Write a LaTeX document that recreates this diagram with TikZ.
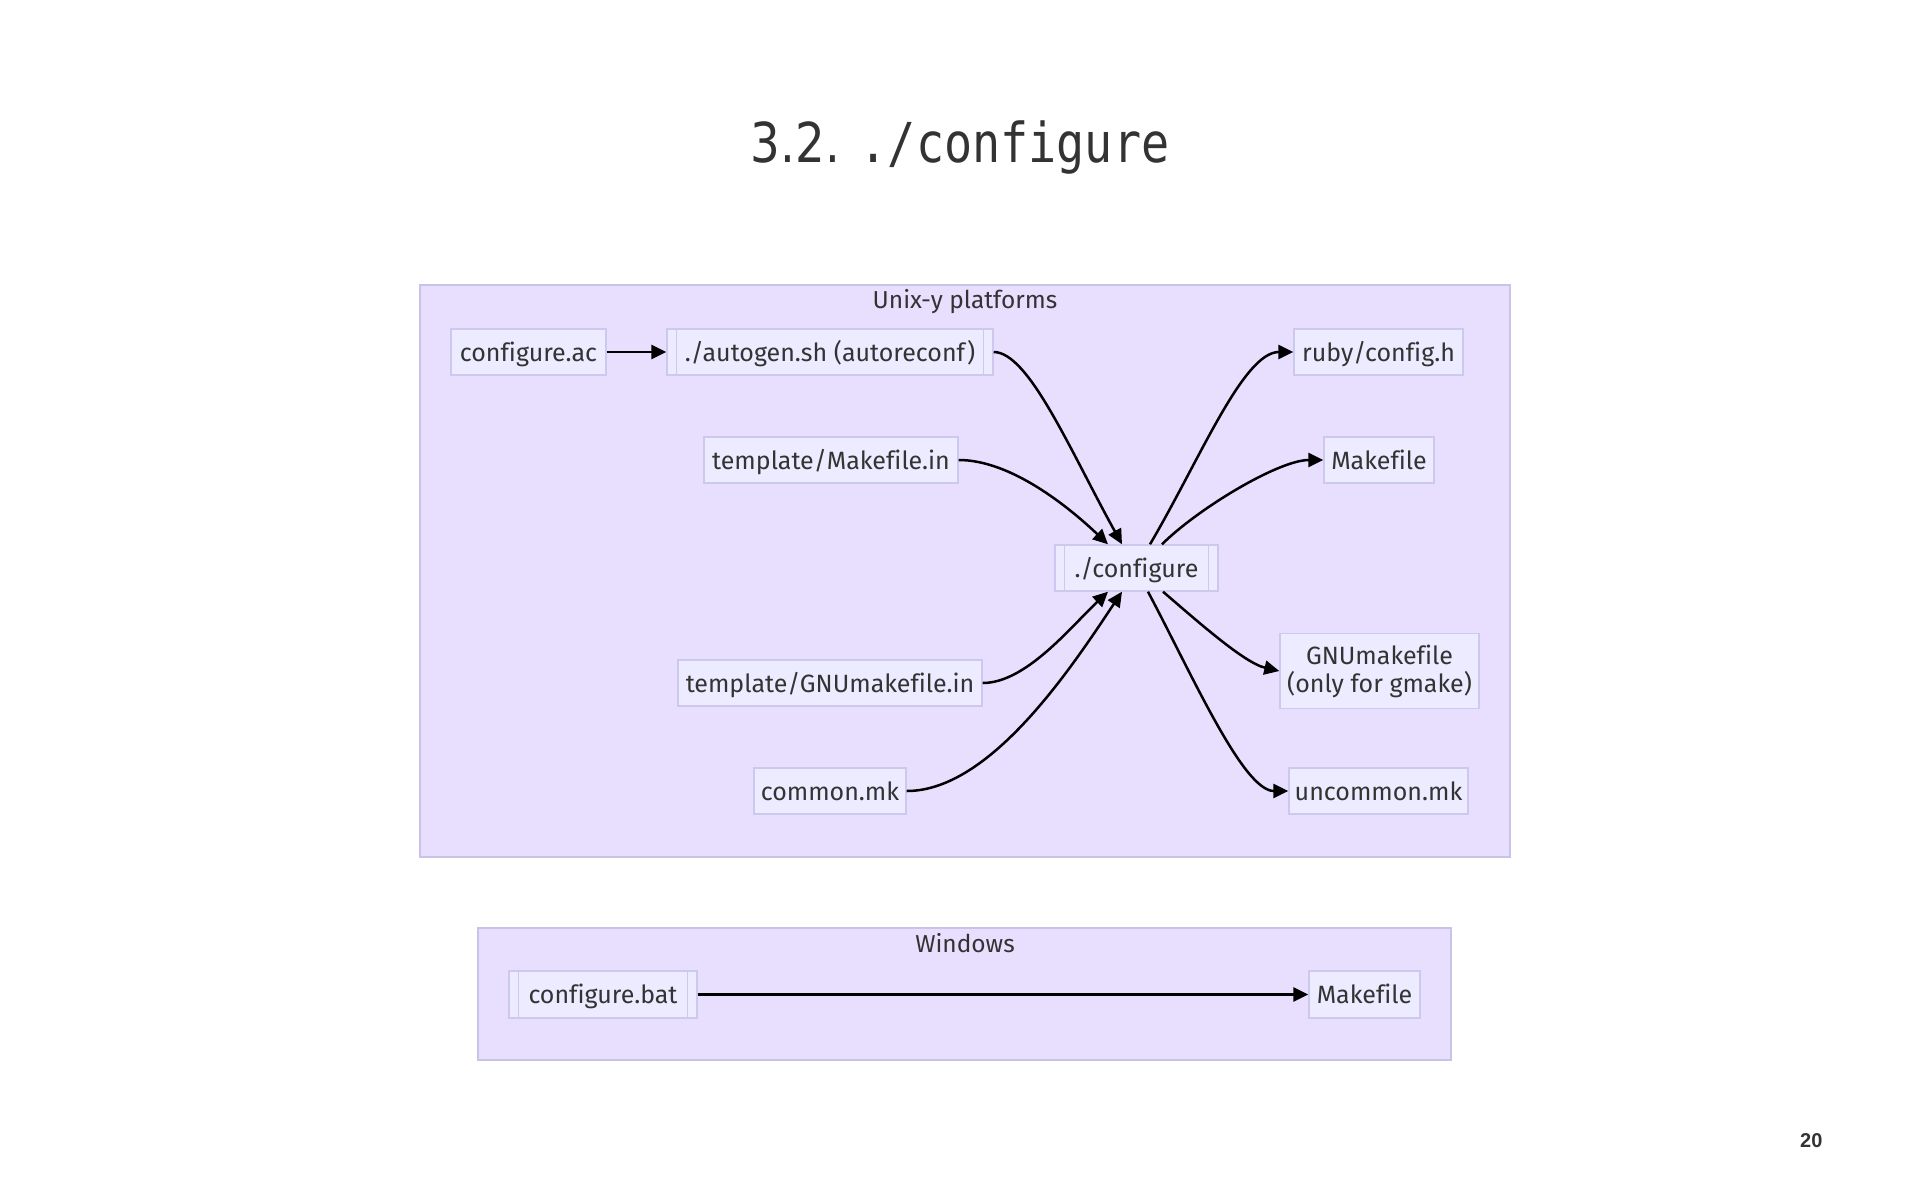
\documentclass[tikz,border=0pt]{standalone}
\usepackage{fontspec}
\setmainfont{Fira Sans}[Ligatures={NoCommon}]
\newfontfamily\titlesans[FakeStretch=0.85]{DejaVu Sans}
\newfontfamily\titlemono[FakeStretch=0.85]{DejaVu Sans Mono}
\newfontfamily\pagefont{Liberation Sans}
\usetikzlibrary{arrows.meta,calc}
\definecolor{clfill}{RGB}{232,222,254}
\definecolor{clline}{RGB}{202,195,232}
\definecolor{ndfill}{RGB}{236,235,255}
\definecolor{ndline}{RGB}{204,200,238}
\definecolor{txt}{RGB}{51,51,51}
\begin{document}
\begin{tikzpicture}[x=1pt,y=-1pt,
  nd/.style={draw=ndline, fill=ndfill, line width=1.4pt, inner sep=0pt,
    minimum height=46pt, text height=22pt, text depth=4pt, text=txt,
    font=\fontsize{25}{28}\selectfont, align=center},
  nd2/.style={draw=ndline, fill=ndfill, line width=1.4pt, inner sep=0pt,
    text=txt, font=\fontsize{25}{28}\selectfont, align=center},
  cluster/.style={draw=clline, fill=clfill, line width=1.4pt, inner sep=0pt},
  clabel/.style={text=txt, font=\fontsize{24.5}{28}\selectfont, anchor=base, inner sep=0pt},
  edge/.style={line width=2.5pt, black, -{Triangle[length=15pt,width=14pt]}}
]
\fill[white] (0,0) rectangle (1920,1200);
\useasboundingbox (0,0) rectangle (1920,1200);

% title
\node[anchor=base, text=txt, inner sep=0pt] (title) at (960,162)
  {\fontsize{55}{60}\selectfont\titlesans 3.2. \titlemono ./configure};

% clusters
\node[cluster, minimum width=1090pt, minimum height=572pt] (unix) at (965,571) {};
\node[clabel] (unixlbl) at (965,308) {Unix-y platforms};
\node[cluster, minimum width=973pt, minimum height=132pt] (win) at (964.5,994) {};
\node[clabel] (winlbl) at (965,952) {Windows};

% nodes
\node[nd, minimum width=155pt] (cfgac) at (528.5,352) {configure.ac};
\node[nd, minimum width=326pt] (autogen) at (830,352) {./autogen.sh (autoreconf)};
\node[nd, minimum width=254pt] (tmk) at (831,460) {template/Makefile.in};
\node[nd, minimum width=163pt] (configure) at (1136.5,568) {./configure};
\node[nd, minimum width=304pt] (tgnu) at (830,683) {template/GNUmakefile.in};
\node[nd, minimum width=152pt] (common) at (830,791) {common.mk};
\node[nd, minimum width=169pt] (ruby) at (1378.5,352) {ruby/config.h};
\node[nd, minimum width=110pt] (mk) at (1379,460) {Makefile};
\node[nd2, minimum width=199pt, minimum height=75pt] (gnumk) at (1379.5,671) {GNUmakefile\\(only for gmake)};
\node[nd, minimum width=188pt, minimum height=47pt] (bat) at (603,994.5) {configure.bat};
\node[nd, minimum width=179pt] (uncommon) at (1378.5,791) {uncommon.mk};
\node[nd, minimum width=111pt, minimum height=47pt] (wmk) at (1364.5,994.5) {Makefile};

% subroutine bars
\foreach \n in {autogen,configure,bat}{
  \draw[ndline, line width=1.4pt] ($(\n.north west)+(10,0)$) -- ($(\n.south west)+(10,0)$);
  \draw[ndline, line width=1.4pt] ($(\n.north east)+(-10,0)$) -- ($(\n.south east)+(-10,0)$);
}

% edges
\draw[edge] (cfgac.east) -- (autogen.west);
\draw[edge] (autogen.east) .. controls +(35,0) and +(-52,-94) .. ($(configure.north)+(-14.5,0)$);
\draw[edge] (tmk.east) .. controls +(52,0) and +(-40,-38) .. ($(configure.north)+(-28.5,0)$);
\draw[edge] (tgnu.east) .. controls +(43,0) and +(-38,36) .. ($(configure.south)+(-28.5,0)$);
\draw[edge] (common.east) .. controls +(84,0) and +(-50,75) .. ($(configure.south)+(-14.5,0)$);
\draw[edge] ($(configure.north)+(13.5,0)$) .. controls +(50,-85) and +(-50,0) .. (ruby.west);
\draw[edge] ($(configure.north)+(25.5,0)$) .. controls +(35,-35) and +(-45,0) .. (mk.west);
\draw[edge] ($(configure.south)+(26.5,0)$) .. controls +(35,30) and +(-35,-8) .. (gnumk.west);
\draw[edge] ($(configure.south)+(11.5,0)$) .. controls +(45,85) and +(-45,0) .. (uncommon.west);
\draw[edge] (bat.east) -- (wmk.west);

% page number
\node[anchor=base west, inner sep=0pt, text=txt] (pnum) at (1800,1147)
  {\pagefont\bfseries\fontsize{20}{24}\selectfont 20};
\end{tikzpicture}
\end{document}
